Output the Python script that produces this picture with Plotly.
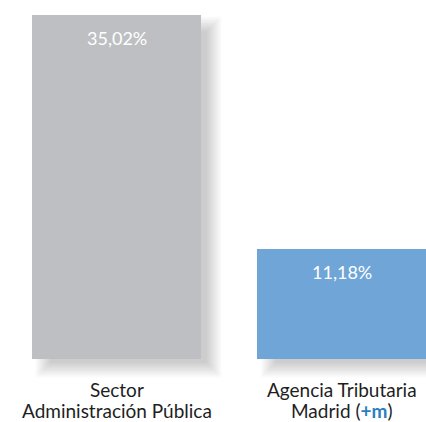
import plotly.graph_objects as go

categories = ["Sector<br>Administración Pública",
              "Agencia Tributaria<br>Madrid (<b><span style='color:#2a7fc1'>+m</span></b>)"]
values = [35.02, 11.18]
bar_colors = ["#bebfc3", "#6fa5d7"]

W, H = 426, 422
mt, mb = 0, 37
plot_h = H - mt - mb
bottom_px = 359  # pixel where value 0 sits
top_px = 15      # pixel where max value sits
ppu = (bottom_px - top_px) / max(values)
ymax = max(values) + top_px / ppu
ymin = -(plot_h - bottom_px) / ppu

# x: category centres at 116.5 and 342 px
xppu = 225.5
xmin = -116.5 / xppu
xmax = (W - 116.5) / xppu
bar_w = 0.75

fig = go.Figure(go.Bar(
    x=list(range(len(values))), y=values, width=bar_w,
    marker=dict(color=bar_colors, line=dict(width=0)),
    hoverinfo="skip"))

# soft drop shadows
shapes = []
dx, dy = 12, 10
for i, v in enumerate(values):
    for k in range(10):
        s = k * 1.6 - 6
        x0 = i - bar_w / 2 + (dx - s) / xppu
        x1 = i + bar_w / 2 + (dx + s) / xppu
        y0 = -(dy + s) / ppu
        y1 = v - (dy - s) / ppu
        shapes.append(dict(type="rect", xref="x", yref="y", x0=x0, x1=x1,
                           y0=y0, y1=y1, layer="below",
                           fillcolor="rgba(0,0,0,0.02)", line=dict(width=0)))

annotations = []
for i, v in enumerate(values):
    annotations.append(dict(x=i, y=v, xref="x", yref="y", yanchor="top",
                            yshift=-10, showarrow=False,
                            text=(f"{v:.2f}%").replace(".", ","),
                            font=dict(family="Lato", size=18, color="white")))
    for j, line in enumerate(categories[i].split("<br>")):
        annotations.append(dict(x=i, y=0, xref="x", yref="y", yanchor="top",
                                yshift=-17 - 21 * j, showarrow=False, text=line,
                                font=dict(family="Lato", size=19, color="#1e1e1e")))

fig.update_layout(
    width=W, height=H, margin=dict(l=0, r=0, t=mt, b=mb),
    paper_bgcolor="white", plot_bgcolor="white",
    showlegend=False, bargap=0,
    xaxis=dict(range=[xmin, xmax], visible=False, fixedrange=True),
    yaxis=dict(range=[ymin, ymax], visible=False, fixedrange=True),
    shapes=shapes, annotations=annotations)

fig.write_html("out.html", config={"displayModeBar": False},
               post_script="document.body.style.margin='0';document.body.style.overflow='hidden';")
